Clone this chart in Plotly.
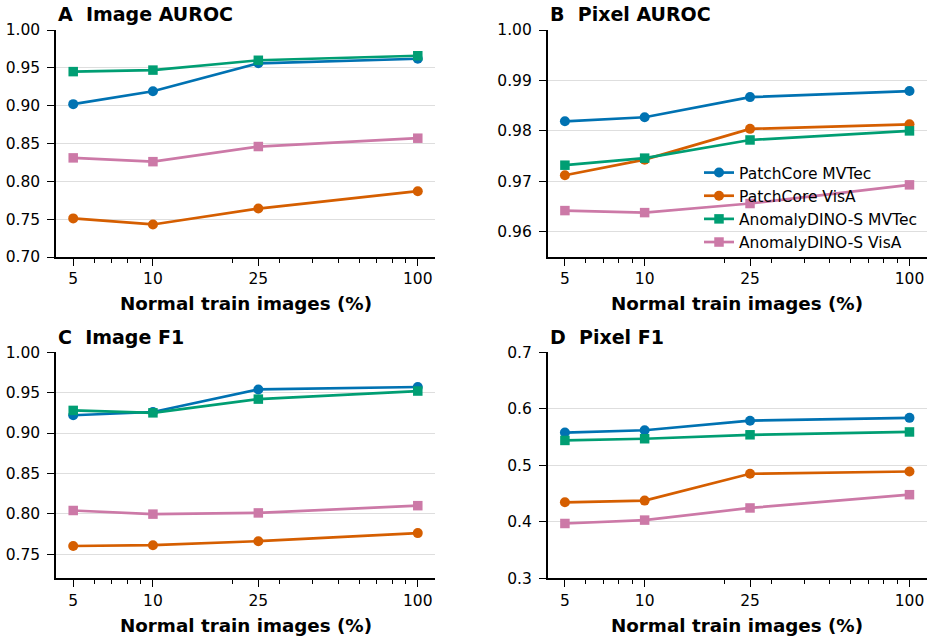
import plotly.graph_objects as go

# ---------------- data ----------------
train_pct = [5, 10, 25, 100]
x_tick_labels = ["5", "10", "25", "100"]
x_minor_ticks = [6, 7, 8, 9, 20, 30, 40, 50, 60, 70, 80, 90]

series_names = ["PatchCore MVTec", "PatchCore VisA", "AnomalyDINO-S MVTec", "AnomalyDINO-S VisA"]
series_colors = ["#0072B2", "#D55E00", "#009E73", "#CC79A7"]
series_symbols = ["circle", "circle", "square", "square"]

# A  Image AUROC
image_auroc_pc_mvtec = [0.902, 0.919, 0.956, 0.962]
image_auroc_pc_visa = [0.751, 0.743, 0.764, 0.787]
image_auroc_ad_mvtec = [0.945, 0.947, 0.960, 0.966]
image_auroc_ad_visa = [0.831, 0.826, 0.846, 0.857]

# B  Pixel AUROC
pixel_auroc_pc_mvtec = [0.9819, 0.9827, 0.9867, 0.9879]
pixel_auroc_pc_visa = [0.9712, 0.9743, 0.9804, 0.9813]
pixel_auroc_ad_mvtec = [0.9732, 0.9746, 0.9782, 0.9800]
pixel_auroc_ad_visa = [0.9642, 0.9638, 0.9656, 0.9693]

# C  Image F1
image_f1_pc_mvtec = [0.922, 0.926, 0.954, 0.957]
image_f1_pc_visa = [0.760, 0.761, 0.766, 0.776]
image_f1_ad_mvtec = [0.928, 0.925, 0.942, 0.952]
image_f1_ad_visa = [0.804, 0.7995, 0.801, 0.810]

# D  Pixel F1
pixel_f1_pc_mvtec = [0.558, 0.562, 0.579, 0.584]
pixel_f1_pc_visa = [0.4345, 0.4375, 0.485, 0.489]
pixel_f1_ad_mvtec = [0.544, 0.547, 0.554, 0.559]
pixel_f1_ad_visa = [0.397, 0.403, 0.4245, 0.448]

panel_titles = ["A  Image AUROC", "B  Pixel AUROC", "C  Image F1", "D  Pixel F1"]
panel_values = [
    [image_auroc_pc_mvtec, image_auroc_pc_visa, image_auroc_ad_mvtec, image_auroc_ad_visa],
    [pixel_auroc_pc_mvtec, pixel_auroc_pc_visa, pixel_auroc_ad_mvtec, pixel_auroc_ad_visa],
    [image_f1_pc_mvtec, image_f1_pc_visa, image_f1_ad_mvtec, image_f1_ad_visa],
    [pixel_f1_pc_mvtec, pixel_f1_pc_visa, pixel_f1_ad_mvtec, pixel_f1_ad_visa],
]
y_ranges = [[0.70, 1.00], [0.955, 1.00], [0.72, 1.00], [0.30, 0.70]]
y_ticks = [
    [0.70, 0.75, 0.80, 0.85, 0.90, 0.95, 1.00],
    [0.96, 0.97, 0.98, 0.99, 1.00],
    [0.75, 0.80, 0.85, 0.90, 0.95, 1.00],
    [0.3, 0.4, 0.5, 0.6, 0.7],
]
y_formats = [".2f", ".2f", ".2f", ".1f"]
x_title = "Normal train images (%)"

# ---------------- layout helpers ----------------
W, H = 934, 642
FONT = "DejaVu Sans"
TICK_SIZE = 15.5


def fx(p):
    return p / W


def fy(p):
    return 1 - p / H


# pixel boxes (left, right, top, bottom)
boxes = [
    (56, 435, 30, 257),
    (547.7, 926.7, 30, 257),
    (56, 435, 352.3, 578.3),
    (547.7, 926.7, 352.3, 578.3),
]
title_y_px = [14, 14, 336.5, 336.5]
xtitle_y_px = [303.5, 303.5, 625.5, 625.5]

fig = go.Figure()
layout = dict(
    width=W, height=H,
    margin=dict(l=0, r=0, t=0, b=0),
    plot_bgcolor="white", paper_bgcolor="white",
    font=dict(family=FONT, size=TICK_SIZE, color="black"),
    showlegend=True,
    legend=dict(
        x=fx(699), y=fy(156), xanchor="left", yanchor="top",
        bgcolor="rgba(0,0,0,0)", font=dict(size=TICK_SIZE, family=FONT),
        tracegroupgap=0,
    ),
    annotations=[],
)

for i in range(4):
    sfx = "" if i == 0 else str(i + 1)
    L, R, T, B = boxes[i]
    for s in range(4):
        fig.add_trace(go.Scatter(
            x=train_pct, y=panel_values[i][s],
            mode="lines+markers",
            name=series_names[s],
            legendgroup=series_names[s],
            showlegend=(i == 1),
            line=dict(color=series_colors[s], width=2.7),
            marker=dict(symbol=series_symbols[s], size=10 if series_symbols[s] == "circle" else 9.5,
                        color=series_colors[s]),
            xaxis="x" + sfx, yaxis="y" + sfx,
            cliponaxis=False,
        ))
    layout["xaxis" + sfx] = dict(
        type="log", domain=[fx(L), fx(R)], range=[0.634, 2.065],
        anchor="y" + sfx,
        tickmode="array", tickvals=train_pct, ticktext=x_tick_labels,
        ticks="outside", ticklen=7, tickwidth=1.3, tickcolor="black",
        showline=True, linecolor="black", linewidth=1.5,
        showgrid=False, zeroline=False, automargin=False,
        tickfont=dict(size=TICK_SIZE, family=FONT),
        minor=dict(tickmode="array", tickvals=x_minor_ticks, ticks="outside",
                   ticklen=4, tickwidth=1, tickcolor="black", showgrid=False),
    )
    layout["yaxis" + sfx] = dict(
        domain=[fy(B), fy(T)], range=y_ranges[i], anchor="x" + sfx,
        tickmode="array", tickvals=y_ticks[i], tickformat=y_formats[i],
        ticks="outside", ticklen=7, tickwidth=1.3, tickcolor="black",
        ticklabelstandoff=4,
        showline=True, linecolor="black", linewidth=1.5,
        showgrid=True, gridcolor="#dedede", gridwidth=1,
        zeroline=False, automargin=False,
        tickfont=dict(size=TICK_SIZE, family=FONT),
    )
    layout["annotations"].append(dict(
        text="<b>" + panel_titles[i].replace("  ", "&nbsp;&nbsp;") + "</b>",
        x=fx(L), y=fy(title_y_px[i]), xref="paper", yref="paper",
        xanchor="left", yanchor="middle", showarrow=False,
        font=dict(size=19, family=FONT, color="black"),
    ))
    layout["annotations"].append(dict(
        text="<b>" + x_title + "</b>",
        x=fx((L + R) / 2), y=fy(xtitle_y_px[i]), xref="paper", yref="paper",
        xanchor="center", yanchor="middle", showarrow=False,
        font=dict(size=18.3, family=FONT, color="black"),
    ))

fig.update_layout(**layout)
fig.write_html("out.html")
